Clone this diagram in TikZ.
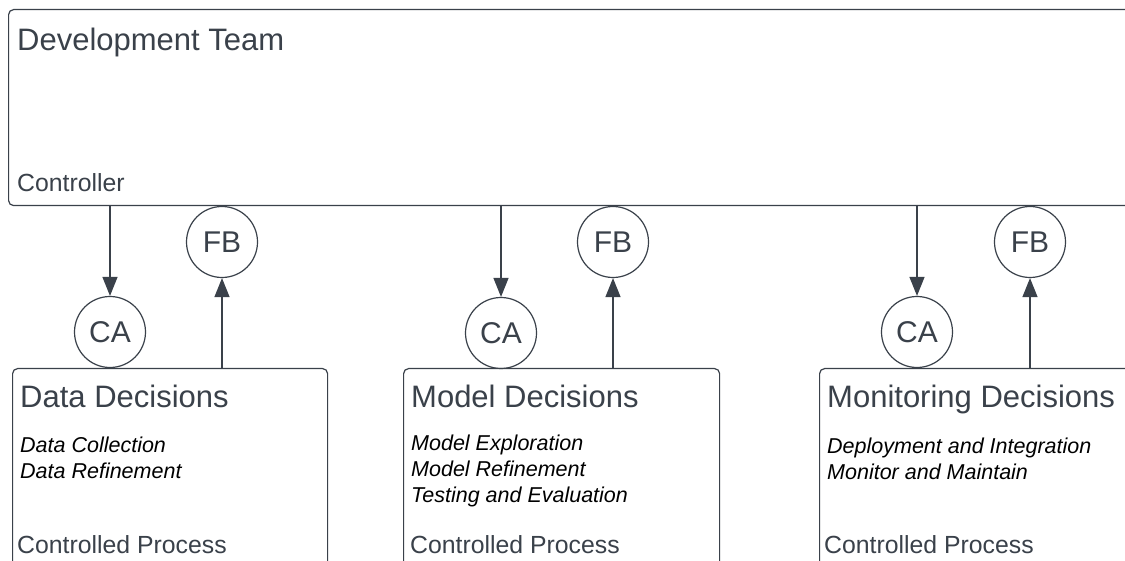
\documentclass[tikz,border=0pt]{standalone}
\usepackage{fontspec}
\setmainfont{Liberation Sans}
\usetikzlibrary{arrows.meta}
\definecolor{ink}{HTML}{3A414A}
\begin{document}
\begin{tikzpicture}[x=1pt,y=-1pt,
  box/.style={draw=ink,line width=1.2pt,rounded corners=5pt,anchor=north west,inner sep=0pt},
  circ/.style={draw=ink,line width=1.2pt,circle,minimum size=71pt,inner sep=0pt,text=ink,font=\fontsize{30}{34}\selectfont},
  conn/.style={draw=ink,line width=1.3pt,-{Triangle[length=19pt,width=15pt]}},
  title/.style={anchor=base west,text=ink,inner sep=0pt,font=\fontsize{31}{35}\selectfont},
  sub/.style={anchor=base west,text=ink,inner sep=0pt,font=\fontsize{24.8}{28}\selectfont},
  item/.style={anchor=base west,text=black,inner sep=0pt,font=\itshape\fontsize{21.5}{25}\selectfont}]
\useasboundingbox (0,0) rectangle (1125,561);
\clip (0,0) rectangle (1125,561);
\fill[white] (0,0) rectangle (1125,561);
% controller
\node[box,minimum width=1140pt,minimum height=196pt] (dev) at (8,9) {};
\node[title] (devt) at (17,51) {Development Team};
\node[sub] (ctl) at (17,192) {Controller};
% controlled processes
\node[box,minimum width=315pt,minimum height=210pt] (data) at (12,368) {};
\node[box,minimum width=316pt,minimum height=210pt] (model) at (403,368) {};
\node[box,minimum width=330pt,minimum height=210pt] (mon) at (819,368) {};
\node[title] (datat) at (20,407) {Data Decisions};
\node[title] (modelt) at (411,407) {Model Decisions};
\node[title] (mont) at (827,407) {Monitoring Decisions};
\node[item] (d1) at (20,452) {Data Collection};
\node[item] (d2) at (20,478) {Data Refinement};
\node[item] (m1) at (411,450) {Model Exploration};
\node[item] (m2) at (411,476) {Model Refinement};
\node[item] (m3) at (411,502) {Testing and Evaluation};
\node[item] (n1) at (827,453) {Deployment and Integration};
\node[item] (n2) at (827,479) {Monitor and Maintain};
\node[sub] (datac) at (17,553) {Controlled Process};
\node[sub] (modelc) at (410,553) {Controlled Process};
\node[sub] (monc) at (824,553) {Controlled Process};
% control actions and feedback
\node[circ] (ca1) at (110,332) {CA};
\node[circ] (fb1) at (222,242) {FB};
\node[circ] (ca2) at (501,333) {CA};
\node[circ] (fb2) at (613,242) {FB};
\node[circ] (ca3) at (917,332) {CA};
\node[circ] (fb3) at (1030,242) {FB};
\draw[conn] (dev.south -| ca1) -- (ca1.north);
\draw[conn] (dev.south -| ca2) -- (ca2.north);
\draw[conn] (dev.south -| ca3) -- (ca3.north);
\draw[conn] (data.north -| fb1) -- (fb1.south);
\draw[conn] (model.north -| fb2) -- (fb2.south);
\draw[conn] (mon.north -| fb3) -- (fb3.south);
\end{tikzpicture}
\end{document}
